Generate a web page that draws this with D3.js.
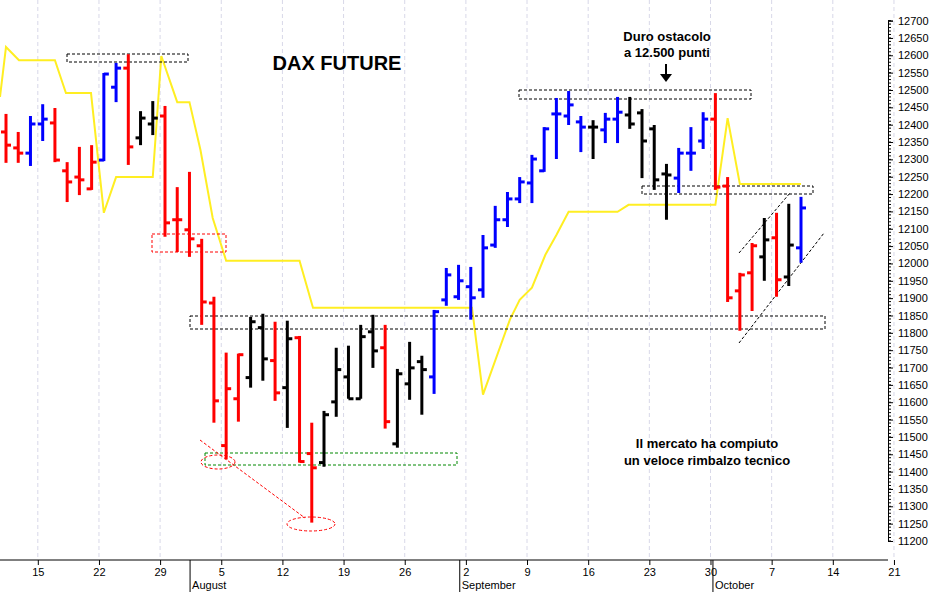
<!DOCTYPE html>
<html><head><meta charset="utf-8">
<script src="https://cdn.jsdelivr.net/npm/d3@7"></script>
<style>body{margin:0;background:#fff}svg{display:block;font-family:Arial,"Liberation Sans",sans-serif}</style>
</head><body><svg id="c" width="942" height="592"></svg>
<script>
const opens =[12379,12333,12318,12402,12405,12267,12249,12215,12298,12508,12563,12362,12402,12425,12126,12097,12051,11886,11475,11610,11671,11815,11720,11642,11786,11452,11426,11601,11673,11610,11803,11757,11480,11653,11717,11673,11895,11904,11933,11924,12053,12126,12186,12232,12267,12431,12425,12408,12393,12385,12416,12428,12434,12388,12258,12246,12318,12353,12416,12223,11921,11973,12019,12074,11961,12045];
const highs =[12431,12379,12425,12459,12448,12292,12336,12341,12549,12578,12603,12439,12468,12454,12220,12264,12071,11904,11743,11740,11846,11855,11832,11835,11791,11541,11575,11757,11763,11823,11852,11823,11696,11774,11734,11866,11987,11996,11990,12082,12166,12206,12249,12313,12393,12477,12497,12425,12413,12434,12480,12480,12445,12399,12287,12333,12393,12436,12491,12249,11973,12059,12131,12146,12172,12192];
const lows  =[12290,12290,12281,12353,12292,12177,12197,12212,12295,12465,12284,12341,12370,12077,12033,12019,11823,11541,11435,11544,11642,11662,11604,11526,11426,11253,11414,11558,11610,11610,11699,11524,11469,11607,11564,11624,11878,11895,11838,11901,12045,12105,12174,12174,12264,12301,12399,12321,12301,12347,12347,12388,12246,12212,12126,12203,12267,12330,12212,11889,11806,11863,11950,11904,11935,12002];
const closes=[12341,12318,12402,12416,12298,12235,12241,12292,12546,12563,12336,12419,12419,12117,12126,12071,11889,11604,11639,11737,11832,11725,11627,11783,11429,11411,11564,11694,11610,11789,11748,11544,11682,11699,11694,11861,11967,11950,11901,12045,12126,12186,12235,12301,12388,12431,12457,12393,12393,12416,12436,12402,12353,12241,12255,12318,12318,12416,12220,11901,11967,12051,12068,11953,12053,12160];
const colorCodes="rrbbrrrrbbrkkrrrrrrrkkrkrrkkkkkrkkkbbbbbbbbbbbbbkbbkkkkbbbrrrrkrkb";
const avgIndex=[-0.49,0,1.06,4.0,4.9,6.95,8.0,9.0,12.0,12.7,14.0,15.0,15.9,16.9,18.0,24.0,25.1,38.1,39.0,41.2,42.0,43.0,44.1,45.0,46.0,50.0,50.9,58.0,59.0,60.0,65.0];
const avgValues=[12480,12624,12586,12586,12491,12491,12146,12249,12249,12598,12465,12465,12327,12131,12008,12008,11872,11872,11622,11838,11895,11930,12025,12082,12149,12149,12169,12169,12419,12229,12229];
const dayLabels=["15","22","29","5","12","19","26","2","9","16","23","30","7","14","21"];
const dayTickIndex=dayLabels.map((d,k)=>2.6+5*k);
const months=[{name:"August",idx:15.05},{name:"September",idx:37.1},{name:"October",idx:57.8}];
const yTicks=d3.range(11200,12701,50);

const svg=d3.select("#c");
const x=d3.scaleLinear().domain([0,65]).range([6,801]);
const y=d3.scaleLinear().domain([11200,12700]).range([541,20.6]);
const colMap={r:"#ff0000",b:"#0000ff",k:"#000000"};
const W=888,B=560;

svg.append("g").selectAll("line").data(dayTickIndex).join("line")
 .attr("x1",d=>x(d)).attr("x2",d=>x(d)).attr("y1",0).attr("y2",B)
 .attr("stroke","#d8d8e8").attr("stroke-dasharray","4,3");

svg.append("path").datum(avgIndex.map((d,i)=>[d,avgValues[i]]))
 .attr("d",d3.line().x(d=>x(d[0])).y(d=>y(d[1])))
 .attr("fill","none").attr("stroke","#ffee22").attr("stroke-width",2);

const ann=svg.append("g").attr("fill","none").attr("stroke-dasharray","3,2").attr("stroke-width",1);
[[67,54,121,8,"#000"],[519,90,232,9,"#000"],[190,316,635,13,"#000"],[642,186,171,8,"#000"],[152,234,74,18,"#f00"],[205,453,252,12,"#080"]]
 .forEach(r=>ann.append("rect").attr("x",r[0]).attr("y",r[1]).attr("width",r[2]).attr("height",r[3]).attr("stroke",r[4]));
ann.append("ellipse").attr("cx",218).attr("cy",462).attr("rx",17).attr("ry",7).attr("stroke","#f00");
ann.append("ellipse").attr("cx",311).attr("cy",524).attr("rx",24).attr("ry",7).attr("stroke","#f00");
ann.append("line").attr("x1",200).attr("y1",440).attr("x2",305).attr("y2",518).attr("stroke","#f00");
ann.append("line").attr("x1",739).attr("y1",253).attr("x2",790).attr("y2",193).attr("stroke","#000");
ann.append("line").attr("x1",739).attr("y1",343).attr("x2",824).attr("y2",233).attr("stroke","#000");

const bars=svg.append("g").selectAll("g").data(opens.map((o,i)=>({i,o,h:highs[i],l:lows[i],c:closes[i],col:colMap[colorCodes[i]]}))).join("g")
 .attr("stroke",d=>d.col).attr("stroke-width",3);
bars.append("line").attr("x1",d=>x(d.i)).attr("x2",d=>x(d.i)).attr("y1",d=>y(d.h)).attr("y2",d=>y(d.l));
bars.append("line").attr("x1",d=>x(d.i)-5).attr("x2",d=>x(d.i)).attr("y1",d=>y(d.o)).attr("y2",d=>y(d.o));
bars.append("line").attr("x1",d=>x(d.i)).attr("x2",d=>x(d.i)+5).attr("y1",d=>y(d.c)).attr("y2",d=>y(d.c));

const ya=svg.append("g").attr("transform",`translate(${W},0)`)
 .call(d3.axisRight(y).tickValues(yTicks).tickSize(5).tickFormat(d3.format("d")));
ya.select(".domain").attr("stroke","#000");
ya.selectAll("text").attr("font-size",11).attr("x",10).attr("fill","#000");
ya.append("g").selectAll("line").data(d3.range(11200,12701,10)).join("line")
 .attr("x1",0).attr("x2",3).attr("y1",d=>y(d)).attr("y2",d=>y(d)).attr("stroke","#000");
svg.append("line").attr("x1",0).attr("x2",W).attr("y1",B).attr("y2",B).attr("stroke","#000");
const xa=svg.append("g").attr("transform",`translate(0,${B})`)
 .call(d3.axisBottom(x).tickValues(dayTickIndex).tickSize(5).tickFormat((d,i)=>dayLabels[i]));
xa.select(".domain").remove();
xa.selectAll("text").attr("font-size",11).attr("fill","#000");
months.forEach(m=>{
 const px=x(m.idx);
 svg.append("line").attr("x1",px).attr("x2",px).attr("y1",B).attr("y2",592).attr("stroke","#000");
 svg.append("text").attr("x",px+2).attr("y",589).attr("font-size",11).text(m.name);
});

svg.append("text").attr("x",337).attr("y",70).attr("text-anchor","middle").attr("font-size",20).attr("font-weight","bold").text("DAX FUTURE");
svg.append("text").attr("x",667).attr("y",41).attr("text-anchor","middle").attr("font-size",13).attr("font-weight","bold").text("Duro ostacolo");
svg.append("text").attr("x",667).attr("y",57).attr("text-anchor","middle").attr("font-size",13).attr("font-weight","bold").text("a 12.500 punti");
svg.append("line").attr("x1",666).attr("x2",666).attr("y1",64).attr("y2",76).attr("stroke","#000").attr("stroke-width",2);
svg.append("path").attr("d","M660,74 L672,74 L666,82 Z").attr("fill","#000");
svg.append("text").attr("x",707).attr("y",448).attr("text-anchor","middle").attr("font-size",13).attr("font-weight","bold").text("Il mercato ha compiuto");
svg.append("text").attr("x",707).attr("y",465).attr("text-anchor","middle").attr("font-size",13).attr("font-weight","bold").text("un veloce rimbalzo tecnico");
</script></body></html>
